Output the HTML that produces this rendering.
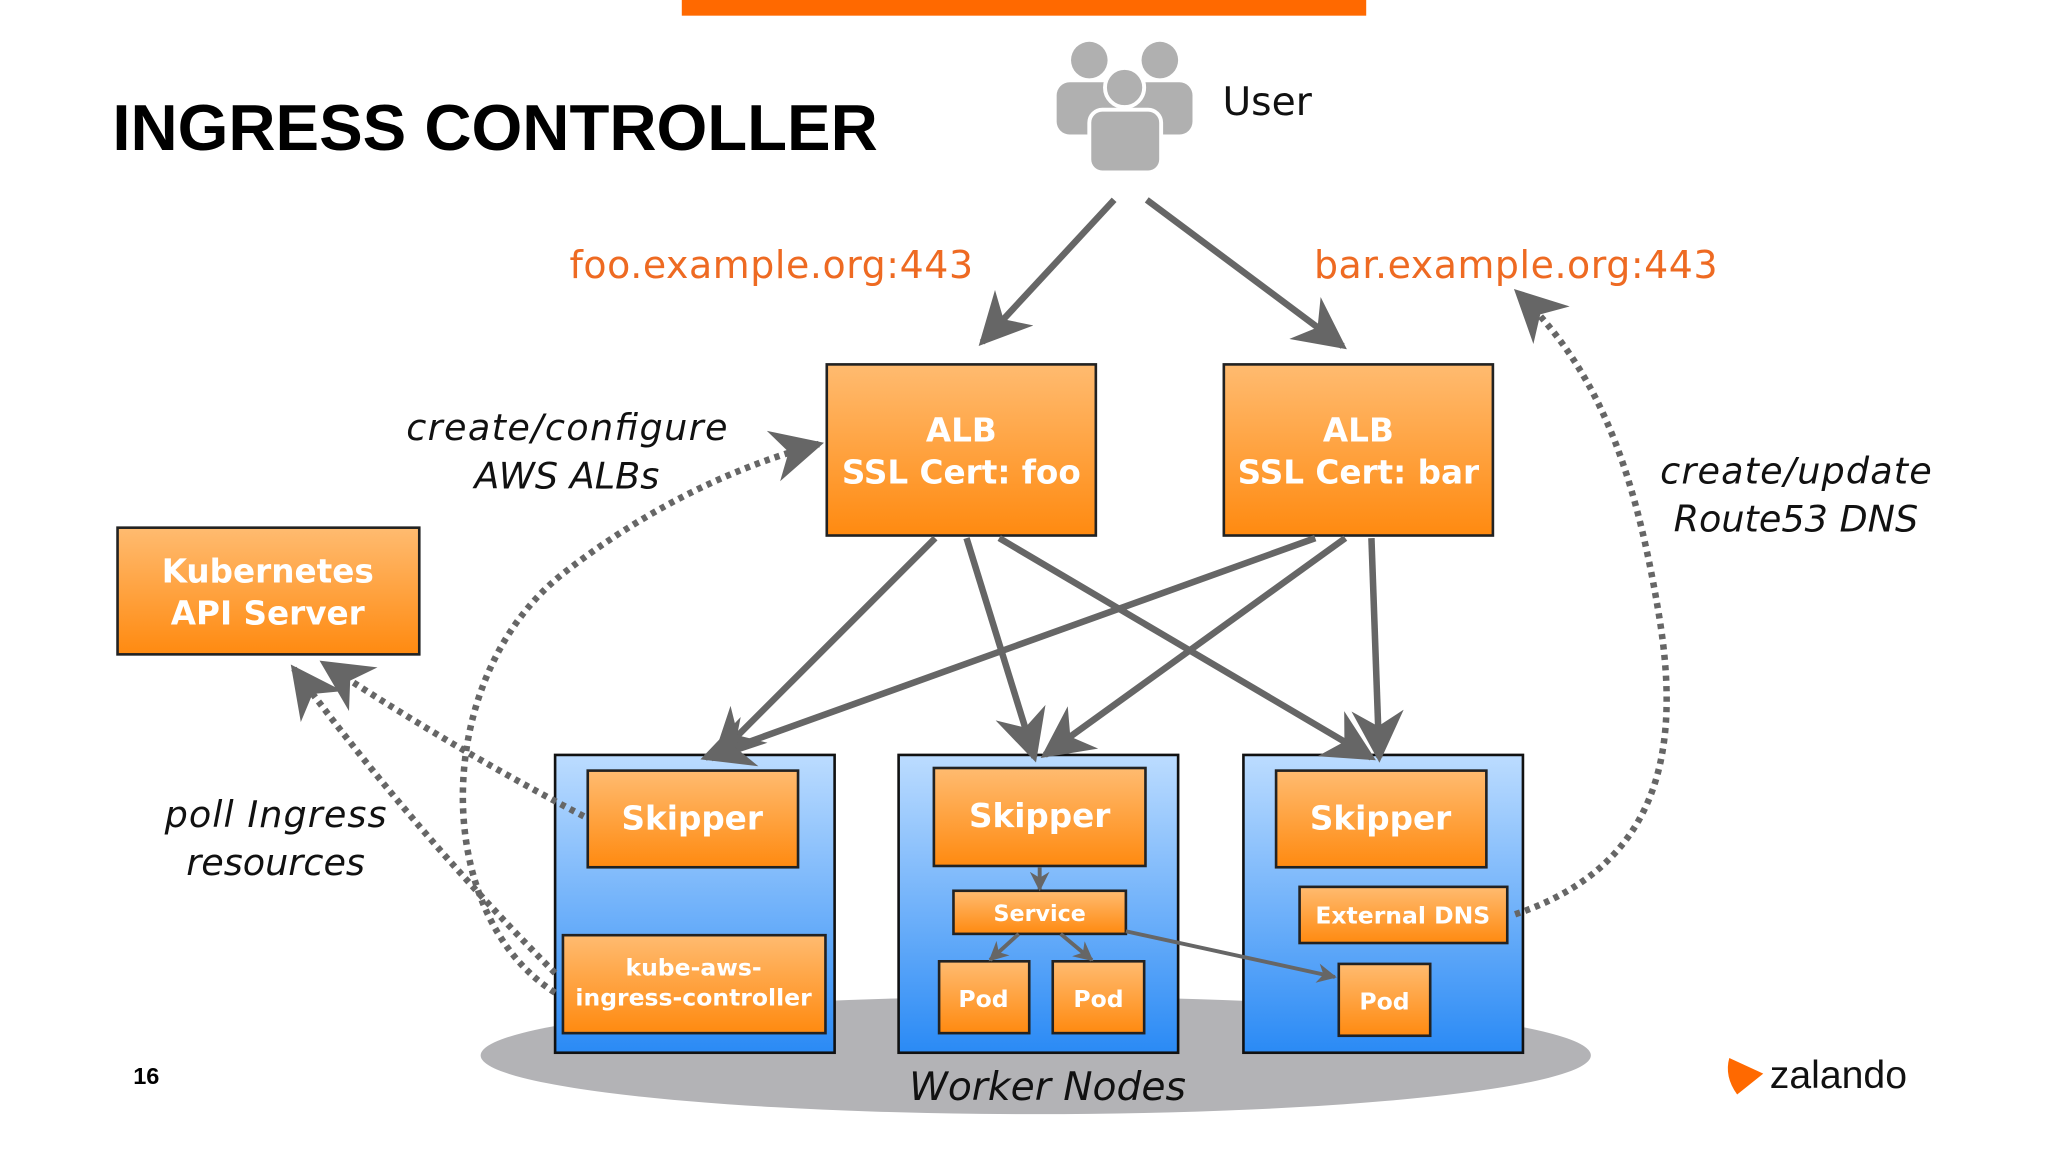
<!DOCTYPE html>
<html><head><meta charset="utf-8"><style>
html,body{margin:0;padding:0;background:#fff;width:2048px;height:1152px;overflow:hidden}
svg{display:block}
.t{font-family:"DejaVu Sans","Liberation Sans",sans-serif}
.w{fill:#fff;font-weight:bold;text-anchor:middle;font-family:"DejaVu Sans",sans-serif}
.it{font-family:"DejaVu Sans",sans-serif;font-style:italic;font-size:28px;fill:#111;text-anchor:middle}
</style></head><body>
<svg width="2048" height="1152" viewBox="0 0 1568 882" xmlns="http://www.w3.org/2000/svg">
<defs>
<linearGradient id="og" x1="0" y1="0" x2="0" y2="1"><stop offset="0" stop-color="#ffbb70"/><stop offset="1" stop-color="#ff8a10"/></linearGradient>
<linearGradient id="bg" x1="0" y1="0" x2="0" y2="1"><stop offset="0" stop-color="#bcdcff"/><stop offset="1" stop-color="#2a8af5"/></linearGradient>
<marker id="a" viewBox="0 0 20 20" refX="18" refY="10" markerWidth="8" markerHeight="8" markerUnits="strokeWidth" orient="auto"><path d="M0,0 L20,10 L0,20 L6,10 Z" fill="#666"/></marker>
<marker id="s" viewBox="0 0 20 20" refX="18" refY="10" markerWidth="5" markerHeight="5" markerUnits="strokeWidth" orient="auto"><path d="M0,0 L20,10 L0,20 L6,10 Z" fill="#666"/></marker>
</defs>
<rect x="522" y="0" width="524" height="12" fill="#ff6900"/>
<text x="86" y="115" font-size="50" font-weight="bold" fill="#000" style="font-family:'Liberation Sans',sans-serif">INGRESS CONTROLLER</text>
<!-- user icon -->
<g fill="#b0b0b0">
<circle cx="834" cy="46" r="14"/><circle cx="888" cy="46" r="14"/>
<rect x="809" y="63" width="50" height="40" rx="10"/><rect x="863" y="63" width="50" height="40" rx="10"/>
<circle cx="861" cy="67" r="15" stroke="#fff" stroke-width="3"/>
<rect x="834" y="84" width="55" height="48" rx="10" stroke="#fff" stroke-width="3"/>
</g>
<text x="936" y="88" class="t" font-size="30" fill="#111">User</text>
<text x="436" y="213" class="t" font-size="29" fill="#ee6a22" textLength="309">foo.example.org:443</text>
<text x="1006" y="213" class="t" font-size="29" fill="#ee6a22" textLength="309">bar.example.org:443</text>
<g stroke="#666" stroke-width="5" fill="none" marker-end="url(#a)">
<line x1="853" y1="153" x2="752" y2="262"/>
<line x1="878" y1="153" x2="1028" y2="265"/>
</g>
<ellipse cx="793" cy="808" rx="425" ry="45" fill="#b3b3b6"/>
<text x="802" y="842" class="t" font-size="30" font-style="italic" fill="#111" text-anchor="middle">Worker Nodes</text>
<g stroke="#111" stroke-width="2" fill="url(#bg)">
<rect x="425" y="578" width="214" height="228"/>
<rect x="688" y="578" width="214" height="228"/>
<rect x="952" y="578" width="214" height="228"/>
</g>
<g stroke="#222" stroke-width="2" fill="url(#og)">
<rect x="633" y="279" width="206" height="131"/>
<rect x="937" y="279" width="206" height="131"/>
<rect x="90" y="404" width="231" height="97"/>
<rect x="450" y="590" width="161" height="74"/>
<rect x="715" y="588" width="162" height="75"/>
<rect x="977" y="590" width="161" height="74"/>
<rect x="431" y="716" width="201" height="75"/>
<rect x="730" y="682" width="132" height="33"/>
<rect x="719" y="736" width="69" height="55"/>
<rect x="806" y="736" width="70" height="55"/>
<rect x="995" y="679" width="159" height="43"/>
<rect x="1025" y="738" width="70" height="55"/>
</g>
<text x="736" y="338" class="w" font-size="25">ALB</text>
<text x="736" y="370" class="w" font-size="25">SSL Cert: foo</text>
<text x="1040" y="338" class="w" font-size="25">ALB</text>
<text x="1040" y="370" class="w" font-size="25">SSL Cert: bar</text>
<text x="205" y="446" class="w" font-size="25">Kubernetes</text>
<text x="205" y="478" class="w" font-size="25">API Server</text>
<text x="530" y="635" class="w" font-size="25">Skipper</text>
<text x="796" y="633" class="w" font-size="25">Skipper</text>
<text x="1057" y="635" class="w" font-size="25">Skipper</text>
<text x="531" y="747" class="w" font-size="18">kube-aws-</text>
<text x="531" y="770" class="w" font-size="18">ingress-controller</text>
<text x="796" y="705" class="w" font-size="17">Service</text>
<text x="753" y="771" class="w" font-size="18">Pod</text>
<text x="841" y="771" class="w" font-size="18">Pod</text>
<text x="1074" y="707" class="w" font-size="18">External DNS</text>
<text x="1060" y="773" class="w" font-size="18">Pod</text>
<g stroke="#666" stroke-width="5" fill="none" marker-end="url(#a)">
<line x1="716" y1="412" x2="548" y2="580"/>
<line x1="740" y1="412" x2="792" y2="580"/>
<line x1="765" y1="412" x2="1050" y2="580"/>
<line x1="1007" y1="412" x2="540" y2="580"/>
<line x1="1030" y1="412" x2="800" y2="578"/>
<line x1="1050" y1="412" x2="1056" y2="580"/>
</g>
<g stroke="#666" stroke-width="3" fill="none" marker-end="url(#s)">
<line x1="796" y1="664" x2="796" y2="681"/>
<line x1="780" y1="715" x2="758" y2="735"/>
<line x1="812" y1="715" x2="836" y2="735"/>
<line x1="862" y1="713" x2="1022" y2="748"/>
</g>
<g stroke="#666" stroke-width="5" fill="none" stroke-dasharray="4 4" marker-end="url(#a)">
<path d="M425,760 C330,700 330,520 430,440 C500,385 570,355 627,340"/>
<path d="M447,625 C380,590 320,555 248,508"/>
<path d="M425,745 C360,680 290,600 225,512"/>
<path d="M1160,700 C1280,660 1285,560 1270,470 C1250,350 1220,280 1162,224"/>
</g>
<text x="434" y="337" class="it" textLength="246">create/configure</text>
<text x="434" y="374" class="it">AWS ALBs</text>
<text x="1375" y="370" class="it" textLength="208">create/update</text>
<text x="1375" y="407" class="it">Route53 DNS</text>
<text x="211" y="633" class="it" textLength="170">poll Ingress</text>
<text x="211" y="670" class="it">resources</text>
<text x="102" y="830" font-size="18" font-weight="bold" fill="#000" style="font-family:'Liberation Sans',sans-serif">16</text>
<path d="M1324,810 L1350,822 L1330,838 Q1320,824 1324,810 Z" fill="#ff6900"/>
<text x="1355" y="833" font-size="30" fill="#111" style="font-family:'Liberation Sans',sans-serif">zalando</text>
</svg>
</body></html>
